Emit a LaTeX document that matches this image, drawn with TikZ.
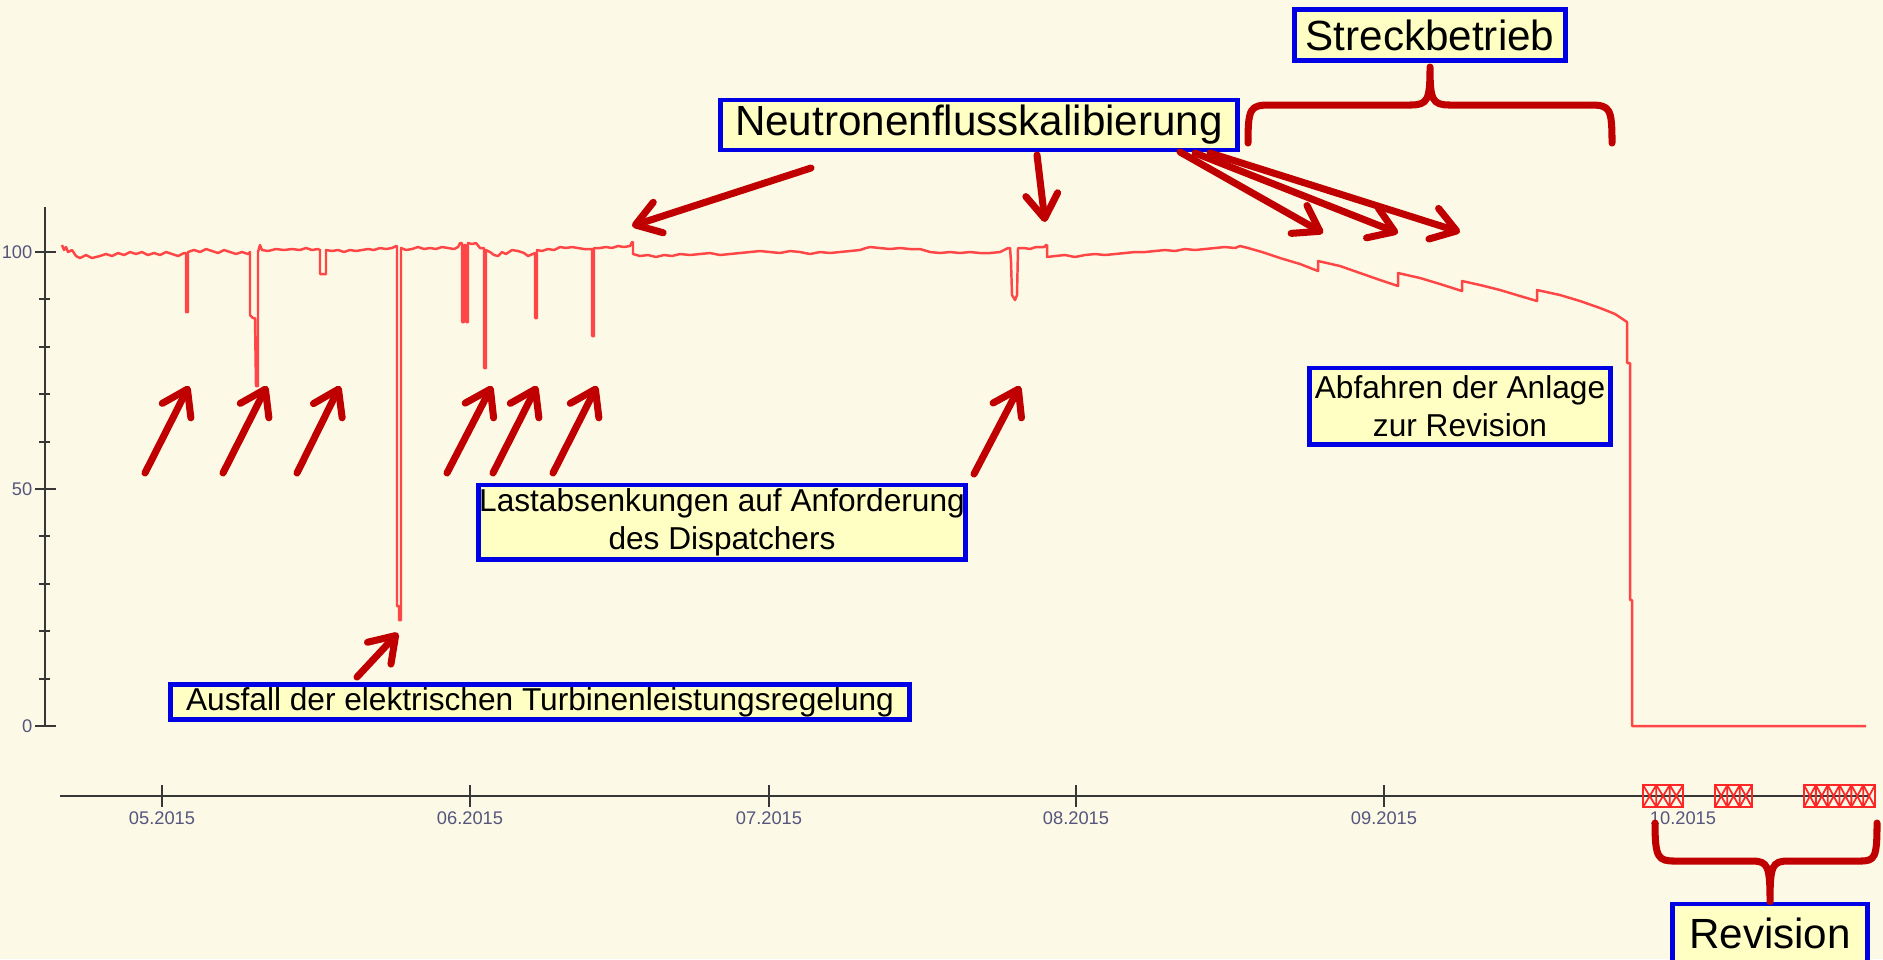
\documentclass[tikz,border=0pt]{standalone}
\usepackage{fontspec}
\setmainfont{Liberation Sans}
\usetikzlibrary{arrows.meta}
\definecolor{hintergrund}{RGB}{252,249,230}
\definecolor{kastengelb}{RGB}{255,255,196}
\definecolor{kastenblau}{RGB}{0,0,228}
\definecolor{pfeilrot}{RGB}{192,0,0}
\definecolor{kurvenrot}{RGB}{255,70,70}
\definecolor{achsgrau}{RGB}{55,55,55}
\definecolor{skalenblau}{RGB}{85,85,125}
\tikzset{
    kasten/.style={draw=kastenblau, fill=kastengelb, line width=1.4pt, inner sep=0pt, align=center, text=black},
    gross/.style={font=\fontsize{12}{14}\selectfont},
    klein/.style={font=\fontsize{9}{10.8}\selectfont},
    pfeil/.style={draw=pfeilrot, line width=2pt, line cap=round, -{Straight Barb[length=2.4mm,width=3.2mm,round]}},
    klammer/.style={draw=pfeilrot, line width=2pt, line cap=round, line join=round},
    kurve/.style={draw=kurvenrot, line width=0.7pt, line join=round},
    kreuz/.style={draw=red!85, line width=0.5pt},
    skala/.style={font=\fontsize{5.2}{6}\selectfont, text=skalenblau, inner sep=0pt}
}

\begin{document}
\begin{tikzpicture}[x=0.01cm, y=-0.01cm]
            \useasboundingbox (0,0) rectangle (1883,959);
            \fill[hintergrund] (0,0) rectangle (1883,959);
            % Achsen
            \draw[achsgrau, line width=0.6pt] (45,207) -- (45,726);
            \draw[achsgrau, line width=0.6pt] (60,796) -- (1870,796);
            \foreach \v in {10,20,30,40,60,70,80,90}
                \draw[achsgrau, line width=0.6pt] (39,{726-4.74*\v}) -- (50,{726-4.74*\v});
            \foreach \v in {0,50,100}{
                \draw[achsgrau, line width=0.6pt] (35,{726-4.74*\v}) -- (56,{726-4.74*\v});
                \node[skala, anchor=east] (y\v) at (33,{726-4.74*\v}) {\v};
            }
            \foreach \x/\m in {162/05, 470/06, 769/07, 1076/08, 1384/09, 1683/10}{
                \draw[achsgrau, line width=0.6pt] (\x,785) -- (\x,807);
                \node[skala] (m\m) at (\x,818) {\m.2015};
            }
            % Revisionsbloecke
            \foreach \a/\b/\n in {1643/1683/3, 1715/1752/3, 1804/1875/6}{
                \draw[kreuz] (\a,785) rectangle (\b,807);
                \foreach \k in {1,...,\n}{
                    \pgfmathsetmacro\xa{\a+(\k-1)*(\b-\a)/\n}
                    \pgfmathsetmacro\xb{\a+\k*(\b-\a)/\n}
                    \draw[kreuz] (\xa,785) -- (\xb,807) (\xa,807) -- (\xb,785) (\xb,785) -- (\xb,807);
                }
            }
            % Leistungsverlauf
            \draw[kurve] plot coordinates {(62,245) (64,250) (66,247) (68,252) (72,250) (76,256) (80,258) (86,255) (92,258) (100,256) (106,254) (112,256) (118,253) (124,255) (130,252) (136,254) (142,252) (148,255) (154,253) (160,255) (166,252) (172,254) (178,256) (184,253)
                (186,253) (186,312) (188,312) (188,252) (194,250) (200,252) (206,249) (212,251) (218,253) (224,250) (230,252) (236,254) (242,252) (248,254)
                (250,252) (250,315) (253,318) (255,318) (256,386) (258,386) (258,252) (260,245) (262,250) (268,251) (276,249) (284,250) (292,249) (300,250) (306,248) (312,250) (318,249)
                (320,250) (320,274) (326,274) (326,250) (332,251) (338,250) (344,252) (350,250) (356,251) (362,250) (368,249) (374,250) (380,248) (386,249) (392,248) (396,246)
                (397,246) (397,606) (399,606) (399,620) (401,620) (401,248) (406,250) (412,249) (418,247) (424,249) (430,248) (436,249) (442,247) (448,248) (454,249) (458,247) (460,243)
                (462,243) (462,322) (464,322) (464,245) (466,245) (466,322) (468,322) (468,243) (472,244) (476,243) (480,248)
                (484,248) (484,368) (486,368) (486,250) (490,252) (494,255) (498,256) (502,252) (506,254) (512,250) (518,251) (524,253) (528,256)
                (535,253) (535,318) (537,318) (537,250) (542,251) (548,249) (554,250) (560,247) (566,248) (572,247) (578,248) (584,249) (590,249)
                (592,249) (592,336) (594,336) (594,248) (600,248) (606,247) (612,248) (618,246) (624,247) (630,246) (632,242)
                (633,242) (633,254) (640,256) (648,255) (656,257) (664,255) (672,256) (680,254) (690,255) (700,254) (710,253) (720,255) (730,254) (740,253) (750,252) (760,251) (770,252) (780,253) (790,251) (800,252) (810,254) (820,252) (830,253) (840,252) (850,251) (860,250) (866,248) (870,247) (880,248) (890,249) (900,248) (910,249) (920,249) (930,252) (940,253) (950,252) (960,253) (970,252) (980,253) (990,253) (1000,252) (1008,248)
                (1010,248) (1011,262) (1012,295) (1015,300) (1017,295) (1018,248) (1024,248) (1030,249) (1036,247) (1044,247) (1046,245)
                (1047,245) (1047,257) (1055,256) (1065,255) (1075,257) (1085,255) (1095,254) (1105,255) (1115,254) (1125,253) (1135,252) (1145,252) (1155,251) (1165,250) (1175,251) (1185,249) (1195,250) (1205,249) (1215,248) (1225,247) (1235,248) (1240,246) (1248,248) (1255,250) (1262,252)
                (1280,258) (1300,264) (1318,271) (1318,261) (1340,266) (1360,273) (1380,280) (1398,286) (1398,273) (1420,278) (1440,284) (1462,291) (1462,281) (1480,285) (1500,290) (1520,296) (1537,301) (1537,290) (1560,295) (1580,301) (1600,308) (1615,314) (1627,322)
                (1627,363) (1630,363) (1630,600) (1632,600) (1632,726) (1866,726)};
            % Beschriftungen
            \node[kasten, gross, minimum width=2.71cm, minimum height=0.51cm] (streck) at (1430,35) {Streckbetrieb};
            \node[kasten, gross, minimum width=5.17cm, minimum height=0.50cm] (neutron) at (979,125) {Neutronenflusskalibierung};
            \node[kasten, gross, minimum width=1.95cm, minimum height=0.58cm] (revision) at (1770,933) {Revision};
            \node[kasten, klein, minimum width=3.01cm, minimum height=0.76cm] (abfahren) at (1460,406) {Abfahren der Anlage\\zur Revision};
            \node[kasten, klein, minimum width=4.87cm, minimum height=0.74cm] (lasten) at (722,522) {Lastabsenkungen auf Anforderung\\des Dispatchers};
            \node[kasten, klein, minimum width=7.39cm, minimum height=0.35cm] (ausfall) at (540,702) {Ausfall der elektrischen Turbinenleistungsregelung};
            % Pfeile
            \foreach \sx/\sy/\zx/\zy [count=\i] in {145/473/189/386, 223/473/267/386, 297/473/340/386, 447/473/492/386, 493/473/537/386, 553/473/597/386, 974/474/1020/386, 357/677/398/633, 811/168/632/226, 1037/155/1045/222, 1180/152/1323/233, 1195/153/1398/233, 1210/153/1460/232}{
                \coordinate (ps\i) at (\sx,\sy);
                \coordinate (pz\i) at (\zx,\zy);
                \draw[pfeil] (ps\i) -- (pz\i);
            }
            % Klammern
            \draw[klammer] (1248,143) .. controls (1248,108) and (1250,105) .. (1270,105) -- (1410,105) .. controls (1428,105) and (1430,100) .. (1430,67) .. controls (1430,100) and (1432,105) .. (1450,105) -- (1590,105) .. controls (1610,105) and (1612,108) .. (1612,143);
            \draw[klammer] (1655,823) .. controls (1655,858) and (1658,861) .. (1675,861) -- (1752,861) .. controls (1768,861) and (1770,866) .. (revision.north) .. controls (1770,866) and (1772,861) .. (1788,861) -- (1860,861) .. controls (1875,861) and (1877,858) .. (1877,823);
        \end{tikzpicture}
\end{document}
